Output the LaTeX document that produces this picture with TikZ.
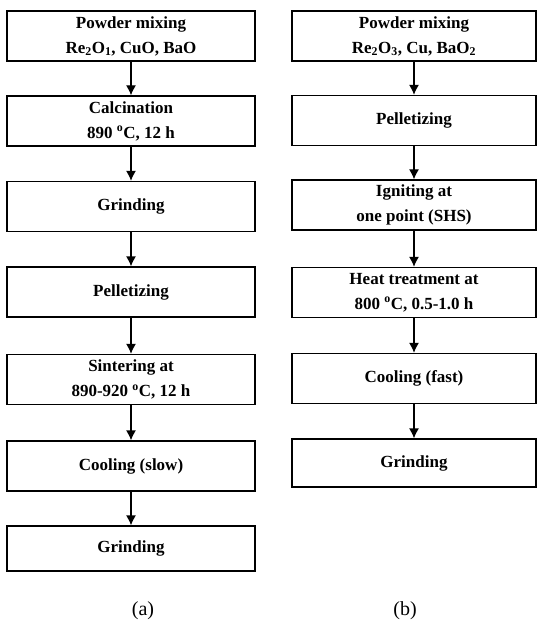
\documentclass[tikz,border=0pt]{standalone}
\usepackage{fontspec}
\setmainfont{Liberation Serif}
\usetikzlibrary{arrows.meta, positioning}
\tikzset{
	stepbox/.style  ={rectangle, draw=black, line width=1.3pt, minimum width=248pt, minimum height=50pt, inner sep=0pt, align=center, text centered, font=\fontsize{17}{25}\selectfont\bfseries},
	stepboxb/.style ={stepbox, minimum width=244pt},
	flowarrow/.style={-{Latex[length=10pt, width=10pt]}, line width=1.3pt},
	caption/.style  ={font=\fontsize{20}{22}\selectfont},
}
\begin{document}
\begin{tikzpicture}[x=1pt, y=-1pt]
	\useasboundingbox (0,0) rectangle (538,636);
	% (a) solid state route
	\node[stepbox] (a1) at (131,36) {Powder mixing\\Re\textsubscript{2}O\textsubscript{1}, CuO, BaO};
	\node[stepbox] (a2) at (131,121) {Calcination\\890 \textsuperscript{o}C, 12 h};
	\node[stepbox] (a3) at (131,206.5) {Grinding};
	\node[stepbox] (a4) at (131,292) {Pelletizing};
	\node[stepbox] (a5) at (131,379.5) {Sintering at\\890-920 \textsuperscript{o}C, 12 h};
	\node[stepbox] (a6) at (131,466) {Cooling (slow)};
	\node[stepbox, minimum height=45pt] (a7) at (131,548.5) {Grinding};
	\foreach \i/\j in {a1/a2, a2/a3, a3/a4, a4/a5, a5/a6, a6/a7}
		\draw[flowarrow] (\i) -- (\j);
	% (b) SHS route
	\node[stepboxb] (b1) at (414,36) {Powder mixing\\Re\textsubscript{2}O\textsubscript{3}, Cu, BaO\textsubscript{2}};
	\node[stepboxb] (b2) at (414,120.5) {Pelletizing};
	\node[stepboxb] (b3) at (414,205) {Igniting at\\one point (SHS)};
	\node[stepboxb] (b4) at (414,292.5) {Heat treatment at\\800 \textsuperscript{o}C, 0.5-1.0 h};
	\node[stepboxb] (b5) at (414,378.5) {Cooling (fast)};
	\node[stepboxb, minimum height=48pt] (b6) at (414,463) {Grinding};
	\foreach \i/\j in {b1/b2, b2/b3, b3/b4, b4/b5, b5/b6}
		\draw[flowarrow] (\i) -- (\j);
	\node[caption] (capa) at (143,611) {(a)};
	\node[caption] (capb) at (405,611) {(b)};
\end{tikzpicture}
\end{document}
